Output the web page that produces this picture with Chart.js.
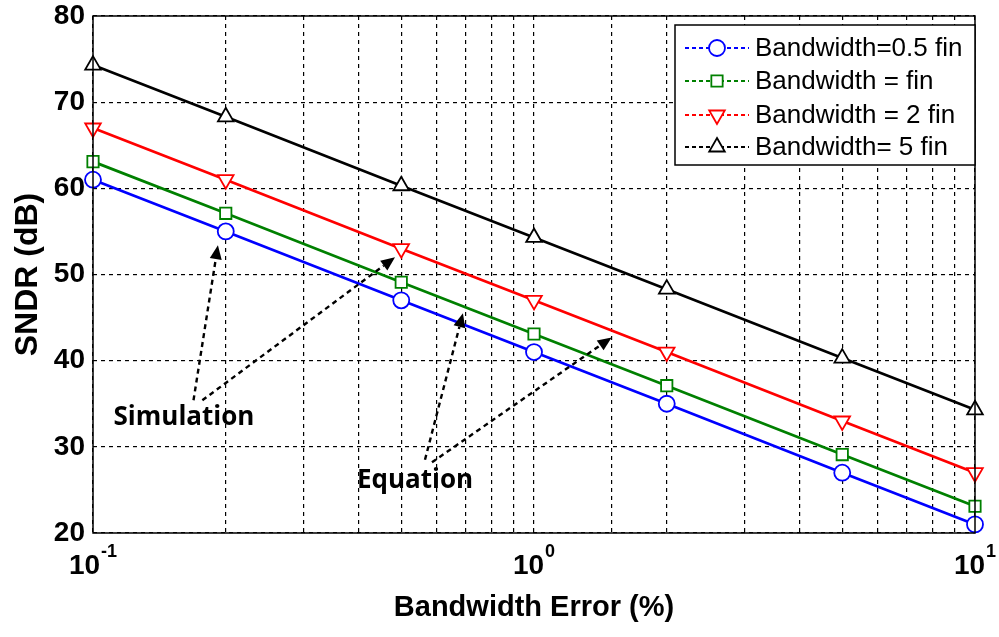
<!DOCTYPE html>
<html>
<head>
<meta charset="utf-8">
<script src="https://cdn.jsdelivr.net/npm/chart.js@4.4.1/dist/chart.umd.min.js"></script>
<style>
  html, body { margin: 0; padding: 0; background: #fff; }
  #wrap { width: 999px; height: 637px; }
</style>
</head>
<body>
<div id="wrap"><canvas id="sndrChart" width="999" height="637"></canvas></div>
<script>
// bandwidth error (%) and SNDR (dB)
var errPct = [0.1, 0.2, 0.5, 1, 2, 5, 10];
var bwHalf = [61, 55, 47, 41, 35, 27, 21];
var bwOne = [63.1, 57.1, 49.1, 43.1, 37.1, 29.1, 23.1];
var bwTwo = [67, 61, 53, 47, 41, 33, 27];
var bwFive = [74.3, 68.3, 60.3, 54.3, 48.3, 40.3, 34.3];

var seriesNames = ['Bandwidth=0.5 fin', 'Bandwidth = fin', 'Bandwidth = 2 fin', 'Bandwidth= 5 fin'];
var seriesColors = ['#0000ff', '#008000', '#ff0000', '#000000'];
var seriesMarks = ['circle', 'rect', 'triangle', 'triangle'];
var seriesRot = [0, 0, 180, 0];
var xMajor = [0.1, 1, 10];
var xMajorExp = ['-1', '0', '1'];

// annotation arrows: [tail x, tail y, tip x, tip y] in data units
var simArrows = [[0.169, 35.4, 0.192, 53.4], [0.177, 35.4, 0.484, 52.0]];
var eqArrows = [[0.566, 28.5, 0.69, 45.5], [0.587, 28.2, 1.5, 42.7]];

function toPts(vals) {
  return vals.map(function (v, i) { return { x: errPct[i], y: v }; });
}

var allSeries = [bwHalf, bwOne, bwTwo, bwFive];
var datasets = allSeries.map(function (vals, i) {
  return {
    label: seriesNames[i],
    data: toPts(vals),
    borderColor: seriesColors[i],
    backgroundColor: '#ffffff',
    borderWidth: 2.7,
    pointStyle: seriesMarks[i],
    pointRotation: seriesRot[i],
    pointRadius: seriesMarks[i] == 'triangle' ? 9 : 8,
    pointBorderWidth: 1.8,
    pointBackgroundColor: '#ffffff',
    pointBorderColor: seriesColors[i],
    clip: false,
    tension: 0
  };
});

function arrow(ctx, x1, y1, x2, y2) {
  ctx.save();
  ctx.strokeStyle = '#000';
  ctx.fillStyle = '#000';
  ctx.lineWidth = 2.4;
  ctx.setLineDash([5, 4]);
  var ang = Math.atan2(y2 - y1, x2 - x1);
  var hx = x2 - 14 * Math.cos(ang), hy = y2 - 14 * Math.sin(ang);
  ctx.beginPath();
  ctx.moveTo(x1, y1);
  ctx.lineTo(hx, hy);
  ctx.stroke();
  ctx.setLineDash([]);
  ctx.beginPath();
  ctx.moveTo(x2, y2);
  ctx.lineTo(hx + 6 * Math.sin(ang), hy - 6 * Math.cos(ang));
  ctx.lineTo(hx - 6 * Math.sin(ang), hy + 6 * Math.cos(ang));
  ctx.closePath();
  ctx.fill();
  ctx.restore();
}

var extras = {
  id: 'extras',
  afterDraw: function (chart) {
    var ctx = chart.ctx, a = chart.chartArea;
    var xs = chart.scales.x, ys = chart.scales.y;
    // frame
    ctx.save();
    ctx.strokeStyle = '#000';
    ctx.lineWidth = 1.5;
    ctx.strokeRect(a.left, a.top, a.right - a.left, a.bottom - a.top);
    ctx.restore();

    // x tick labels with exponents
    ctx.save();
    ctx.fillStyle = '#000';
    ctx.textBaseline = 'alphabetic';
    ctx.textAlign = 'left';
    xMajor.forEach(function (v, i) {
      var px = xs.getPixelForValue(v);
      ctx.font = 'bold 28px Arial, "Liberation Sans", sans-serif';
      var w1 = ctx.measureText('10').width;
      ctx.font = 'bold 18px Arial, "Liberation Sans", sans-serif';
      var w2 = ctx.measureText(xMajorExp[i]).width;
      var x0 = px - (w1 + w2 + 1) / 2;
      ctx.font = 'bold 28px Arial, "Liberation Sans", sans-serif';
      ctx.fillText('10', x0, a.bottom + 41);
      ctx.font = 'bold 18px Arial, "Liberation Sans", sans-serif';
      ctx.fillText(xMajorExp[i], x0 + w1 + 1, a.bottom + 24);
    });
    ctx.restore();

    // annotations
    ctx.save();
    ctx.font = 'bold 26px "Open Sans", Arial, sans-serif';
    ctx.fillStyle = '#000';
    ctx.textAlign = 'center';
    ctx.textBaseline = 'middle';
    ctx.fillText('Simulation', 184, 418);
    ctx.fillText('Equation', 415, 481);
    ctx.restore();
    simArrows.concat(eqArrows).forEach(function (r) {
      arrow(ctx, xs.getPixelForValue(r[0]), ys.getPixelForValue(r[1]),
        xs.getPixelForValue(r[2]), ys.getPixelForValue(r[3]));
    });

    // legend box
    var bx = 675, by = 25, bw = a.right - 675, bh = 140;
    ctx.save();
    ctx.fillStyle = '#fff';
    ctx.fillRect(bx, by, bw, bh);
    ctx.strokeStyle = '#000';
    ctx.lineWidth = 1.5;
    ctx.strokeRect(bx, by, bw, bh);
    ctx.font = '26px Arial, "Liberation Sans", sans-serif';
    ctx.textBaseline = 'middle';
    ctx.textAlign = 'left';
    var rows = [48, 81, 115, 147];
    chart.data.datasets.forEach(function (ds, i) {
      var yy = rows[i];
      ctx.strokeStyle = ds.borderColor;
      ctx.lineWidth = 1.8;
      ctx.setLineDash([4, 3]);
      ctx.beginPath();
      ctx.moveTo(685, yy);
      ctx.lineTo(749, yy);
      ctx.stroke();
      ctx.setLineDash([]);
      ctx.fillStyle = '#fff';
      Chart.helpers.drawPoint(ctx, {
        pointStyle: ds.pointStyle, rotation: ds.pointRotation, radius: ds.pointRadius,
        borderWidth: 1.8
      }, 717, yy);
      ctx.fillStyle = '#000';
      ctx.fillText(ds.label, 755, yy + 1);
    });
    ctx.restore();
  }
};

new Chart(document.getElementById('sndrChart'), {
  type: 'line',
  data: { datasets: datasets },
  plugins: [extras],
  options: {
    responsive: false,
    animation: false,
    layout: { padding: { top: 16, right: 24, left: 9, bottom: 0 } },
    plugins: { legend: { display: false }, tooltip: { enabled: false } },
    scales: {
      x: {
        type: 'logarithmic',
        min: 0.1,
        max: 10,
        afterFit: function (s) { s.height = 104; s.paddingLeft = 0; s.paddingRight = 0; },
        grid: {
          color: '#000',
          lineWidth: 1.2,
          drawTicks: false
        },
        border: { dash: [4, 4], display: false },
        ticks: {
          autoSkip: false,
          maxRotation: 0,
          callback: function () { return ''; }
        },
        title: {
          display: true,
          text: 'Bandwidth Error (%)',
          color: '#000',
          padding: { top: 0, bottom: 12 },
          font: { size: 29, weight: 'bold', family: 'Arial, "Liberation Sans", sans-serif' }
        }
      },
      y: {
        min: 20,
        max: 80,
        afterFit: function (s) { s.width = 84; s.paddingTop = 0; s.paddingBottom = 0; },
        grid: {
          color: '#000',
          lineWidth: 1.2,
          drawTicks: false
        },
        border: { dash: [4, 4], display: false },
        ticks: {
          stepSize: 10,
          padding: 8,
          color: '#000',
          font: { size: 28, weight: 'bold', family: 'Arial, "Liberation Sans", sans-serif' }
        },
        title: {
          display: true,
          text: 'SNDR (dB)',
          color: '#000',
          padding: { top: 0, bottom: 0 },
          font: { size: 32, weight: 'bold', family: 'Arial, "Liberation Sans", sans-serif' }
        }
      }
    }
  }
});
</script>
</body>
</html>
